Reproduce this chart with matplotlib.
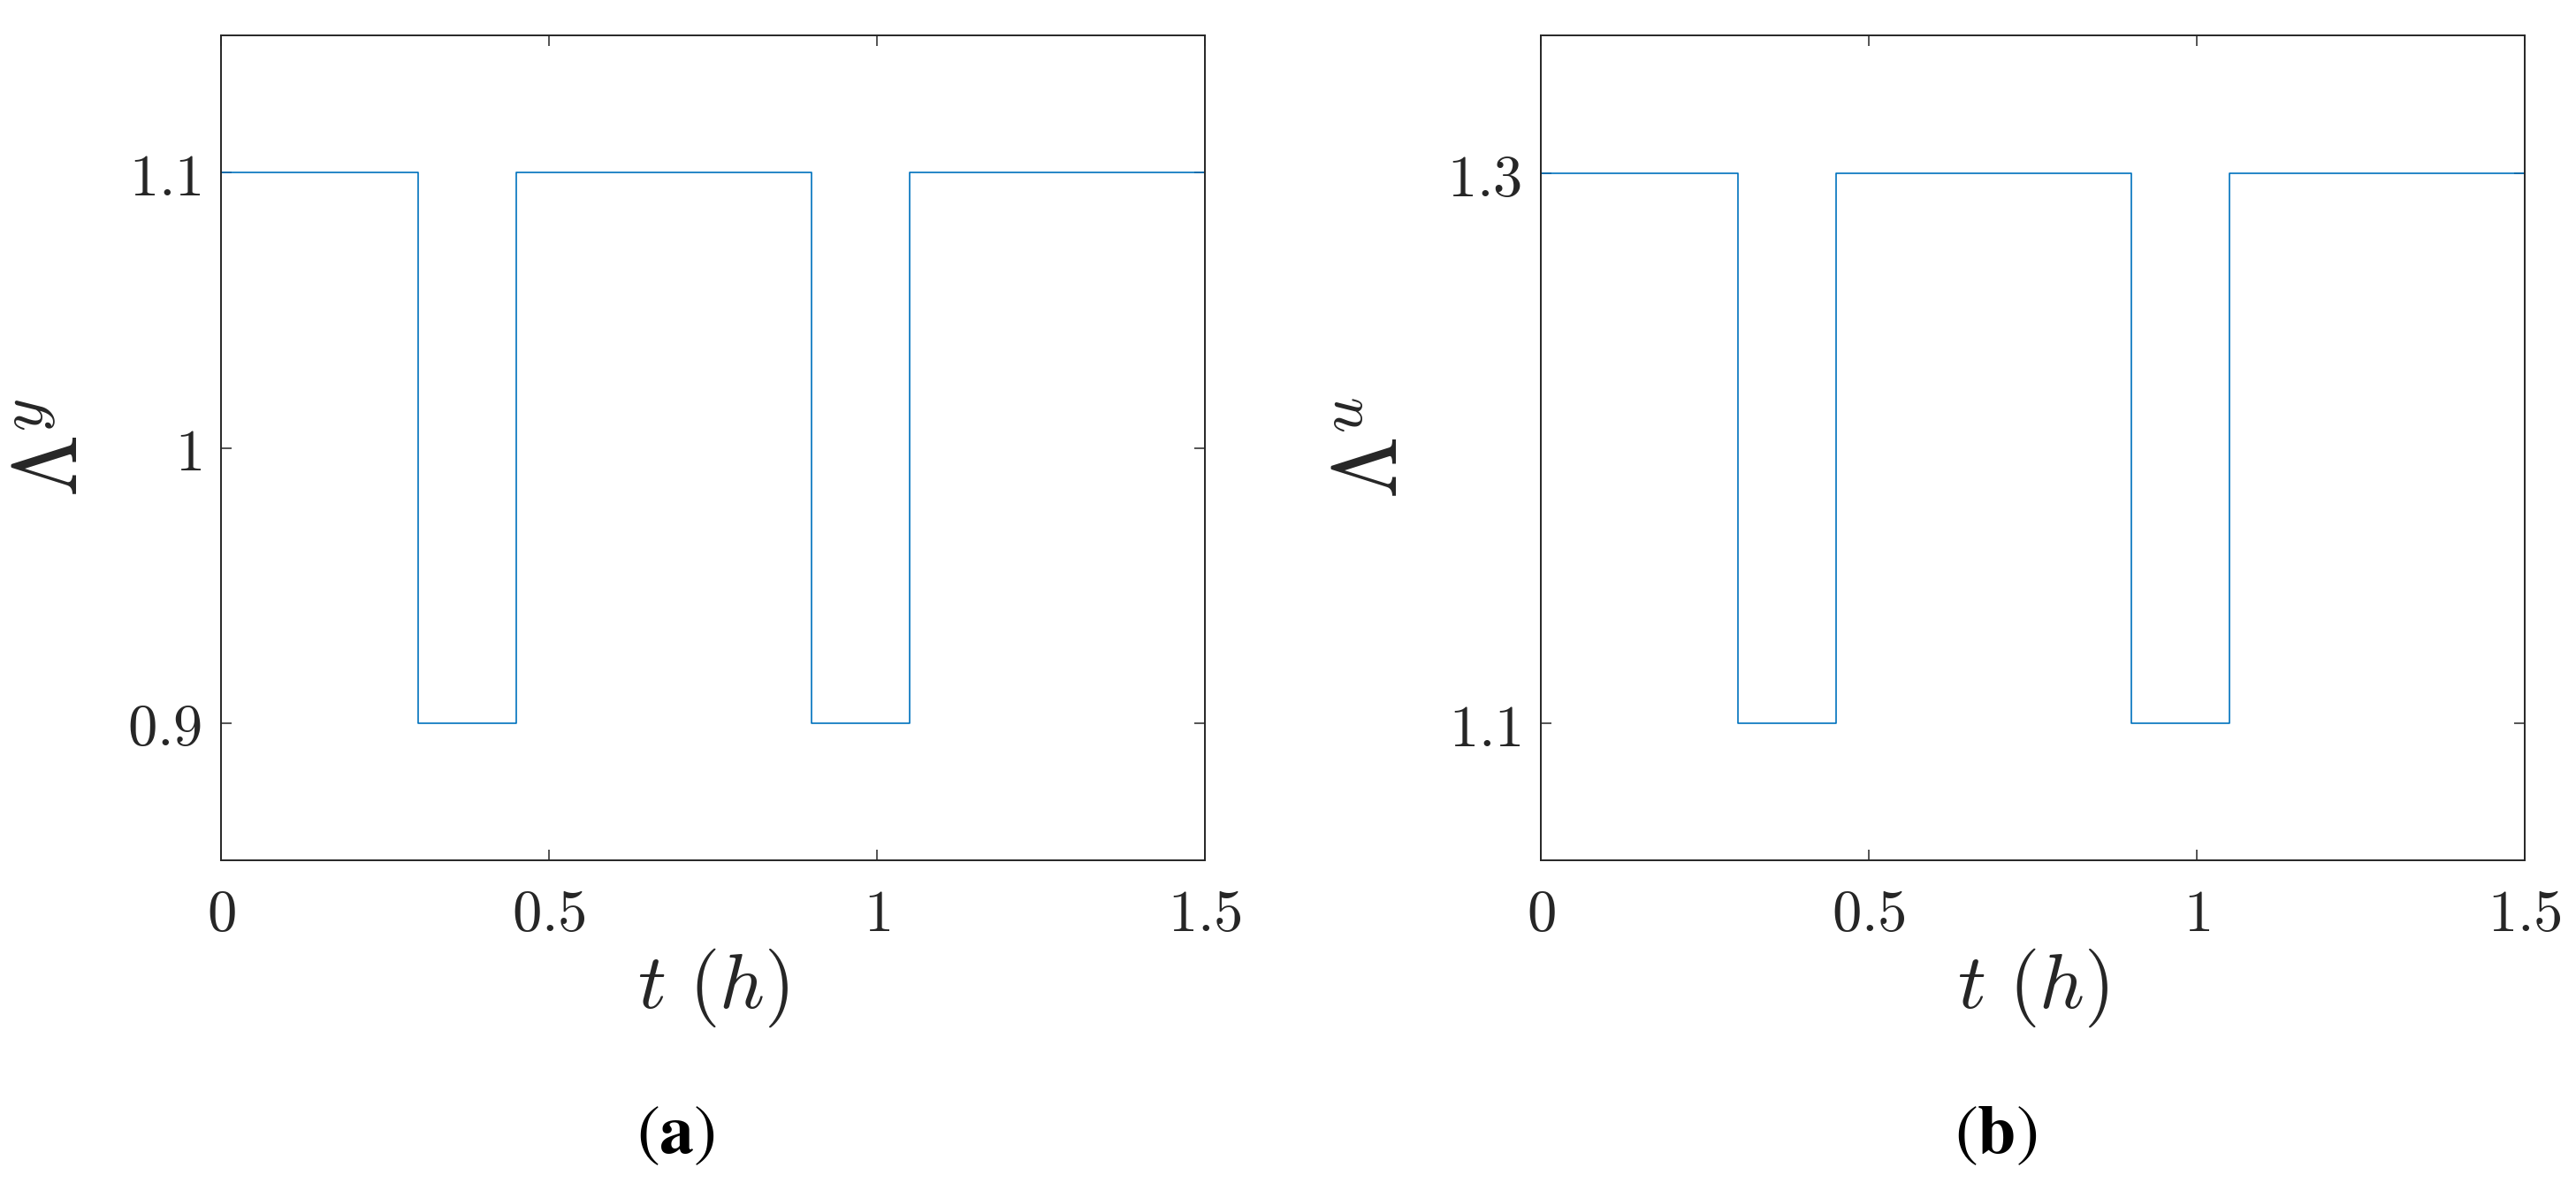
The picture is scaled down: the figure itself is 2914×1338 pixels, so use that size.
import matplotlib
matplotlib.use('Agg')
import matplotlib.pyplot as plt

plt.rcParams['mathtext.fontset'] = 'cm'

# step change times (h)
t = [0, 0.3, 0.45, 0.9, 1.05, 1.5]

# uncertainty factors
lam_y = [1.1, 0.9, 1.1, 0.9, 1.1, 1.1]
lam_u = [1.3, 1.1, 1.3, 1.1, 1.3, 1.3]

xticks = [0, 0.5, 1, 1.5]
xtick_labels = ['0', '0.5', '1', '1.5']
yticks_a = [0.9, 1.0, 1.1]
ytick_labels_a = ['0.9', '1', '1.1']
yticks_b = [1.1, 1.3]
ytick_labels_b = ['1.1', '1.3']

ylabels = [r'$\Lambda^y$', r'$\Lambda^u$']
captions = ['a', 'b']

dark = '#262626'
blue = '#0072BD'

fig = plt.figure(figsize=(29.14, 13.38), dpi=100)

W, H = 2914, 1338
ax_w = 1113 / W
ax_h = (973 - 40) / H
ax_b = 1 - 973 / H
ax1 = fig.add_axes([250 / W, ax_b, ax_w, ax_h])
ax2 = fig.add_axes([1743 / W, ax_b, ax_w, ax_h])

panels = [
    (ax1, lam_y, yticks_a, ytick_labels_a, (0.85, 1.15)),
    (ax2, lam_u, yticks_b, ytick_labels_b, (1.05, 1.35)),
]

for i, (ax, vals, yt, ytl, ylim) in enumerate(panels):
    ax.step(t, vals, where='post', color=blue, linewidth=1.2)
    ax.set_xlim(0, 1.5)
    ax.set_ylim(*ylim)
    ax.set_xticks(xticks)
    ax.set_xticklabels(['$' + s + '$' for s in xtick_labels])
    ax.set_yticks(yt)
    ax.set_yticklabels(['$' + s + '$' for s in ytl])
    ax.tick_params(direction='in', length=8.6, width=1.1, colors=dark,
                   labelsize=48, top=True, right=True)
    ax.tick_params(axis='x', pad=20)
    ax.tick_params(axis='y', pad=16)
    for sp in ax.spines.values():
        sp.set_linewidth(1.4)
        sp.set_color(dark)
    ax.set_xlabel(r'$t\ (h)$', fontsize=64, color=dark)
    ax.xaxis.set_label_coords(0.5, -0.105)
    ax.set_ylabel(ylabels[i], fontsize=73, color=dark)
    ax.yaxis.set_label_coords(-0.128, 0.5)

cap_x = [764 / W, 2258 / W]
for x, c in zip(cap_x, captions):
    fig.text(x, 1 - 1282 / H, r'$(\mathbf{' + c + '})$', fontsize=56,
             ha='center', va='center', color='black', math_fontfamily='stix')

fig.savefig('out.png', dpi=100)
